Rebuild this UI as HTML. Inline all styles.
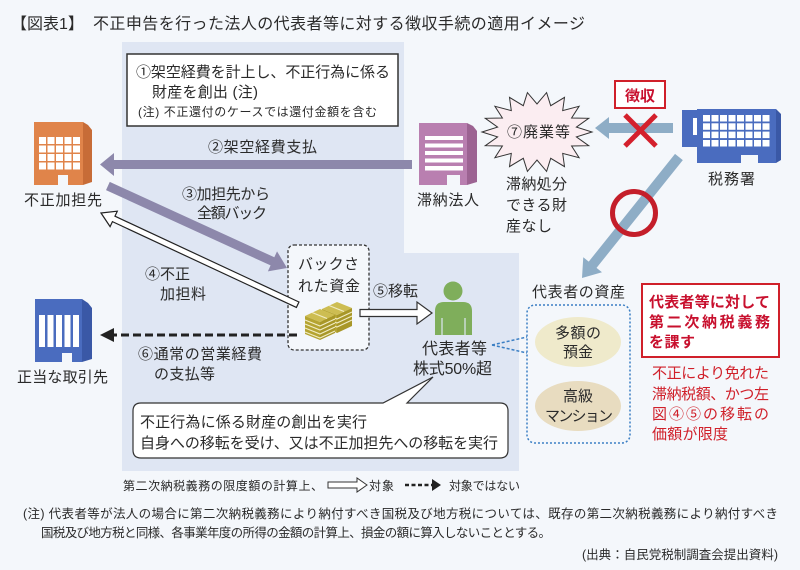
<!DOCTYPE html>
<html><head><meta charset="utf-8">
<style>
html,body{margin:0;padding:0;background:#f4f7fb;}
svg{display:block;}
text{font-family:"Liberation Sans","Noto Sans CJK JP",sans-serif;fill:#2a2a2a;}
</style></head><body>
<svg width="800" height="570" viewBox="0 0 800 570" xmlns="http://www.w3.org/2000/svg">
<rect width="800" height="570" fill="#f4f7fb"/>
<!-- shaded region -->
<polygon points="122,42 404,42 404,253 519,253 519,471 122,471" fill="#dfe6f3"/>

<!-- title -->
<text x="11" y="29" font-size="16">【図表1】</text>
<text x="93" y="29" font-size="16" textLength="492" lengthAdjust="spacing">不正申告を行った法人の代表者等に対する徴収手続の適用イメージ</text>

<!-- box 1 -->
<rect x="127" y="54" width="271" height="72" fill="#ffffff" stroke="#333" stroke-width="1.5"/>
<text x="136" y="77" font-size="15" textLength="254">①架空経費を計上し、不正行為に係る</text>
<text x="152" y="97" font-size="15" textLength="106">財産を創出 (注)</text>
<text x="138" y="116" font-size="12" textLength="239">(注) 不正還付のケースでは還付金額を含む</text>

<!-- arrow 2 -->
<polygon points="100,164.5 114,153 114,160 412,160 412,169 114,169 114,176" fill="#8d88ab"/>
<text x="208" y="152" font-size="15" textLength="109">②架空経費支払</text>

<!-- orange building -->
<polygon points="34,122 83,122 83,185 68,185 68,175 58,175 58,185 34,185" fill="#e0844a"/>
<polygon points="83,122 88,125 92,130 92,182 83,185" fill="#c76c37"/>
<g fill="#ffffff">
<rect x="39" y="137" width="7" height="7"/><rect x="47.5" y="137" width="7" height="7"/><rect x="56" y="137" width="7" height="7"/><rect x="64.5" y="137" width="7" height="7"/><rect x="73" y="137" width="7" height="7"/>
<rect x="39" y="145.5" width="7" height="7"/><rect x="47.5" y="145.5" width="7" height="7"/><rect x="56" y="145.5" width="7" height="7"/><rect x="64.5" y="145.5" width="7" height="7"/><rect x="73" y="145.5" width="7" height="7"/>
<rect x="39" y="154" width="7" height="7"/><rect x="47.5" y="154" width="7" height="7"/><rect x="56" y="154" width="7" height="7"/><rect x="64.5" y="154" width="7" height="7"/><rect x="73" y="154" width="7" height="7"/>
<rect x="39" y="162.5" width="7" height="7"/><rect x="47.5" y="162.5" width="7" height="7"/><rect x="56" y="162.5" width="7" height="7"/><rect x="64.5" y="162.5" width="7" height="7"/><rect x="73" y="162.5" width="7" height="7"/>
</g>
<text x="24" y="205" font-size="15" textLength="78">不正加担先</text>

<!-- purple building -->
<polygon points="419,123 467,123 467,185 460,185 460,175 447,175 447,185 419,185" fill="#b97fb0"/>
<polygon points="467,123 473,126 477,131 477,182 467,185" fill="#9c6392"/>
<g fill="#ffffff">
<rect x="425" y="136" width="38" height="4"/>
<rect x="425" y="143.5" width="38" height="4"/>
<rect x="425" y="151" width="38" height="4"/>
<rect x="425" y="158.5" width="38" height="4"/>
<rect x="425" y="166" width="38" height="4.5"/>
</g>
<text x="417" y="205" font-size="15" textLength="62">滞納法人</text>

<!-- starburst -->
<polygon points="592,132 576.4,136.9 588.7,145.7 571.6,146 579.1,157.7 562.7,153.4 564.5,166.6 550.7,158.3 546.6,171.4 537,160 527.4,171.4 523.3,158.3 509.5,166.6 511.3,153.4 494.9,157.7 502.4,146 485.3,145.7 497.6,136.9 482,132 497.6,127.1 485.3,118.3 502.4,118 494.9,106.3 511.3,110.6 509.5,97.4 523.3,105.7 527.4,92.6 537,104 546.6,92.6 550.7,105.7 564.5,97.4 562.7,110.6 579.1,106.3 571.6,118 588.7,118.3 576.4,127.1" fill="#fbedf1" stroke="#333" stroke-width="1"/>
<text x="507" y="137" font-size="15" textLength="63">⑦廃業等</text>
<text x="506" y="189" font-size="15" textLength="61">滞納処分</text>
<text x="506" y="210" font-size="15" textLength="61">できる財</text>
<text x="506" y="231" font-size="15" textLength="46">産なし</text>

<!-- light blue arrows -->
<polygon points="595,128 609,117 609,123 673,123 673,133 609,133 609,139" fill="#8eadc6"/>
<g transform="translate(582,278) rotate(128.7)">
<polygon points="0,0 -17,-12 -17,-5 -155,-5 -155,5 -17,5 -17,12" fill="#8eadc6"/>
</g>

<!-- 徴収 box and X -->
<rect x="615" y="81" width="50" height="27" fill="#ffffff" stroke="#d0202a" stroke-width="2"/>
<text x="625" y="101" font-size="15" font-weight="bold" textLength="30" style="fill:#c8102e">徴収</text>
<line x1="625" y1="115" x2="656" y2="146" stroke="#d4202c" stroke-width="5"/>
<line x1="656" y1="115" x2="625" y2="146" stroke="#d4202c" stroke-width="5"/>

<!-- red circle -->
<circle cx="634" cy="213" r="21.5" fill="none" stroke="#c41e2a" stroke-width="5"/>

<!-- tax office building -->
<rect x="682" y="110" width="15" height="37" fill="#4a6cbf"/>
<rect x="693" y="118" width="4" height="17" fill="#ffffff"/>
<polygon points="697,109 776,109 776,163 758,163 758,155 741,155 741,163 697,163" fill="#4a6cbf"/>
<polygon points="776,109 781,114 781,160 776,163" fill="#3a58a6"/>
<g fill="#ffffff">
<rect x="703" y="115" width="7" height="6.5"/><rect x="711.5" y="115" width="7" height="6.5"/><rect x="720" y="115" width="7" height="6.5"/><rect x="728.5" y="115" width="7" height="6.5"/><rect x="737" y="115" width="7" height="6.5"/><rect x="745.5" y="115" width="7" height="6.5"/><rect x="754" y="115" width="7" height="6.5"/><rect x="762.5" y="115" width="7" height="6.5"/>
<rect x="703" y="123.3" width="7" height="6.5"/><rect x="711.5" y="123.3" width="7" height="6.5"/><rect x="720" y="123.3" width="7" height="6.5"/><rect x="728.5" y="123.3" width="7" height="6.5"/><rect x="737" y="123.3" width="7" height="6.5"/><rect x="745.5" y="123.3" width="7" height="6.5"/><rect x="754" y="123.3" width="7" height="6.5"/><rect x="762.5" y="123.3" width="7" height="6.5"/>
<rect x="703" y="131.6" width="7" height="6.5"/><rect x="711.5" y="131.6" width="7" height="6.5"/><rect x="720" y="131.6" width="7" height="6.5"/><rect x="728.5" y="131.6" width="7" height="6.5"/><rect x="737" y="131.6" width="7" height="6.5"/><rect x="745.5" y="131.6" width="7" height="6.5"/><rect x="754" y="131.6" width="7" height="6.5"/><rect x="762.5" y="131.6" width="7" height="6.5"/>
<rect x="703" y="140" width="7" height="6.5"/><rect x="711.5" y="140" width="7" height="6.5"/><rect x="720" y="140" width="7" height="6.5"/><rect x="728.5" y="140" width="7" height="6.5"/><rect x="737" y="140" width="7" height="6.5"/><rect x="745.5" y="140" width="7" height="6.5"/><rect x="754" y="140" width="7" height="6.5"/><rect x="762.5" y="140" width="7" height="6.5"/>
</g>
<text x="708" y="184" font-size="15" textLength="47">税務署</text>

<!-- money dashed box -->
<rect x="288" y="245" width="81" height="105" rx="6" fill="#f4f7fb" stroke="#333" stroke-width="1.3" stroke-dasharray="3 2"/>
<text x="298" y="269" font-size="15" textLength="61">バックさ</text>
<text x="298" y="291" font-size="15" textLength="62">れた資金</text>

<!-- money icon -->
<g stroke="none">
<polygon points="322,309 337,302 352,308 337,315" fill="#cdbd52"/>
<polygon points="322,309 337,315 337,333 322,326" fill="#b5a431"/>
<polygon points="337,315 352,308 352,326 337,333" fill="#a89728"/>
</g>
<g fill="none" stroke="#f1ecc4" stroke-width="1.2">
<polyline points="322,313 337,319 352,312"/>
<polyline points="322,317 337,323 352,316"/>
<polyline points="322,321 337,327 352,320"/>
<line x1="329" y1="305.5" x2="344" y2="311.5"/>
</g>
<g stroke="none">
<polygon points="305,316 320,309 335,315 320,322" fill="#cdbd52"/>
<polygon points="305,316 320,322 320,340 305,334" fill="#b5a431"/>
<polygon points="320,322 335,315 335,333 320,340" fill="#a89728"/>
</g>
<g fill="none" stroke="#f1ecc4" stroke-width="1.2">
<polyline points="305,320 320,326 335,319"/>
<polyline points="305,324 320,330 335,323"/>
<polyline points="305,328 320,334 335,327"/>
<polyline points="305,332 320,338 335,331"/>
<line x1="312" y1="312.5" x2="327" y2="318.5"/>
</g>

<!-- arrow 3 -->
<g transform="translate(287,268) rotate(24.6)">
<polygon points="0,0 -16,-11 -16,-4.5 -197,-4.5 -197,4.5 -16,4.5 -16,11" fill="#8d88ab"/>
</g>
<text x="182" y="199" font-size="15" textLength="88">③加担先から</text>
<text x="197" y="218" font-size="15" textLength="70">全額バック</text>

<!-- arrow 4 hollow -->
<g transform="translate(101,213) rotate(205)">
<polygon points="0,0 -14,-8.5 -14,-3 -217,-3 -217,3 -14,3 -14,8.5" fill="#ffffff" stroke="#222" stroke-width="1.2"/>
</g>
<text x="145" y="279" font-size="15" textLength="45">④不正</text>
<text x="160" y="299" font-size="15" textLength="46">加担料</text>

<!-- arrow 6 dashed -->
<line x1="297" y1="335" x2="113" y2="335" stroke="#222" stroke-width="3" stroke-dasharray="8 4"/>
<polygon points="100,335 114,328 114,342" fill="#222"/>
<text x="138" y="359" font-size="15" textLength="124">⑥通常の営業経費</text>
<text x="154" y="379" font-size="15" textLength="61">の支払等</text>

<!-- blue building -->
<polygon points="35,299 82,299 82,362 72,362 72,353 62,353 62,362 35,362" fill="#4a6cbf"/>
<polygon points="82,299 88,303 92,308 92,359 82,362" fill="#3a58a6"/>
<g fill="#ffffff">
<rect x="39" y="315" width="6" height="32"/>
<rect x="47.5" y="315" width="6" height="32"/>
<rect x="56" y="315" width="6" height="32"/>
<rect x="64.5" y="315" width="6" height="32"/>
<rect x="73" y="315" width="6" height="32"/>
</g>
<text x="17" y="382" font-size="15" textLength="91">正当な取引先</text>

<!-- arrow 5 hollow -->
<polygon points="432,313 417,302 417,309.5 360,309.5 360,316.5 417,316.5 417,324" fill="#ffffff" stroke="#333" stroke-width="1.2"/>
<text x="373" y="296" font-size="15" textLength="45">⑤移転</text>

<!-- person -->
<circle cx="453" cy="291" r="9.5" fill="#7fae5b"/>
<path d="M435,335 V311 Q435,302 444,302 H463 Q472,302 472,311 V335 Z" fill="#7fae5b"/>
<line x1="442" y1="318" x2="442" y2="335" stroke="#dfe6f3" stroke-width="1.2"/>
<line x1="465" y1="318" x2="465" y2="335" stroke="#dfe6f3" stroke-width="1.2"/>
<text x="422" y="354" font-size="16" textLength="65">代表者等</text>
<text x="413" y="374" font-size="16" textLength="79">株式50%超</text>

<!-- speech bubble -->
<path d="M141,403 H383 L433,377 L407,403 H500 Q508,403 508,411 V450 Q508,458 500,458 H141 Q133,458 133,450 V411 Q133,403 141,403 Z" fill="#ffffff" stroke="#333" stroke-width="1.2"/>
<text x="140" y="427" font-size="15" textLength="227">不正行為に係る財産の創出を実行</text>
<text x="140" y="448" font-size="15" textLength="358">自身への移転を受け、又は不正加担先への移転を実行</text>

<!-- representative's assets -->
<text x="532" y="297" font-size="15" textLength="93">代表者の資産</text>
<line x1="492" y1="345" x2="527" y2="337" stroke="#3b7fc4" stroke-width="1.5" stroke-dasharray="3 2"/>
<line x1="492" y1="345" x2="527" y2="353" stroke="#3b7fc4" stroke-width="1.5" stroke-dasharray="3 2"/>
<rect x="527" y="305" width="103" height="138" rx="8" fill="none" stroke="#3b7fc4" stroke-width="1.5" stroke-dasharray="2 2"/>
<ellipse cx="578" cy="342" rx="43" ry="25" fill="#efeacb"/>
<ellipse cx="578" cy="406" rx="43" ry="25" fill="#e8dcc0"/>
<text x="555" y="338" font-size="15" textLength="46">多額の</text>
<text x="563" y="357" font-size="15" textLength="30">預金</text>
<text x="563" y="401" font-size="15" textLength="30">高級</text>
<text x="545" y="421" font-size="15" textLength="68">マンション</text>

<!-- red box -->
<rect x="642" y="284" width="137" height="73" fill="#ffffff" stroke="#d0202a" stroke-width="2"/>
<text x="649" y="307" font-size="15" font-weight="bold" textLength="121" style="fill:#c8102e">代表者等に対して</text>
<text x="649" y="327" font-size="15" font-weight="bold" textLength="121" style="fill:#c8102e">第二次納税義務</text>
<text x="649" y="347" font-size="15" font-weight="bold" textLength="46" style="fill:#c8102e">を課す</text>
<text x="652" y="378" font-size="15" textLength="117" style="fill:#d0202a">不正により免れた</text>
<text x="652" y="399" font-size="15" textLength="117" style="fill:#d0202a">滞納税額、かつ左</text>
<text x="652" y="419" font-size="15" textLength="117" style="fill:#d0202a">図④⑤の移転の</text>
<text x="652" y="439" font-size="15" textLength="76" style="fill:#d0202a">価額が限度</text>

<!-- legend -->
<text x="123" y="490" font-size="12" textLength="200">第二次納税義務の限度額の計算上、</text>
<polygon points="367,485 357,478 357,482 328,482 328,488 357,488 357,492" fill="#ffffff" stroke="#333" stroke-width="1"/>
<text x="369" y="490" font-size="12" textLength="25">対象</text>
<line x1="405" y1="485" x2="432" y2="485" stroke="#222" stroke-width="2.5" stroke-dasharray="4 2.5"/>
<polygon points="441,485 432,479 432,491" fill="#222"/>
<text x="449" y="490" font-size="12" textLength="71">対象ではない</text>

<!-- notes -->
<text x="23" y="518" font-size="12.5" textLength="755">(注) 代表者等が法人の場合に第二次納税義務により納付すべき国税及び地方税については、既存の第二次納税義務により納付すべき</text>
<text x="41" y="537" font-size="12.5" textLength="510">国税及び地方税と同様、各事業年度の所得の金額の計算上、損金の額に算入しないこととする。</text>
<text x="582" y="559" font-size="12.5" textLength="196">(出典：自民党税制調査会提出資料)</text>
</svg>
</body></html>
